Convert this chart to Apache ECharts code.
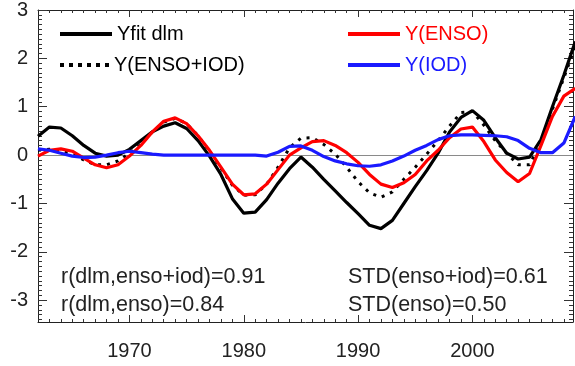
<!DOCTYPE html>
<html><head><meta charset="utf-8">
<script src="https://cdn.jsdelivr.net/npm/echarts@6/dist/echarts.min.js"></script>
<style>html,body{margin:0;padding:0;background:#fff}#c{width:575px;height:366px}</style>
</head><body><div id="c"></div>
<script>
const years = [1962,1963,1964,1965,1966,1967,1968,1969,1970,1971,1972,1973,1974,1975,1976,1977,1978,1979,1980,1981,1982,1983,1984,1985,1986,1987,1988,1989,1990,1991,1992,1993,1994,1995,1996,1997,1998,1999,2000,2001,2002,2003,2004,2005,2006,2007,2008,2009];
const yfitDlm = [0.39,0.58,0.56,0.40,0.20,0.04,-0.02,0.00,0.12,0.30,0.48,0.60,0.67,0.55,0.30,-0.02,-0.40,-0.90,-1.20,-1.18,-0.92,-0.58,-0.28,-0.04,-0.25,-0.50,-0.74,-0.98,-1.21,-1.45,-1.52,-1.35,-1.00,-0.65,-0.32,0.04,0.48,0.78,0.92,0.72,0.36,0.04,-0.08,-0.04,0.32,1.00,1.65,2.35];
const yEnsoIod = [0.10,0.12,0.08,0.02,-0.10,-0.20,-0.20,-0.12,0.04,0.22,0.48,0.68,0.76,0.65,0.40,0.08,-0.27,-0.62,-0.83,-0.82,-0.60,-0.25,0.15,0.35,0.36,0.22,0.02,-0.25,-0.55,-0.78,-0.87,-0.76,-0.50,-0.25,0.02,0.30,0.60,0.88,0.90,0.62,0.30,0.04,-0.20,-0.20,0.28,0.95,1.60,2.25];
const yEnso = [-0.02,0.10,0.13,0.08,-0.06,-0.20,-0.26,-0.20,-0.02,0.20,0.48,0.70,0.77,0.65,0.40,0.10,-0.25,-0.60,-0.82,-0.80,-0.60,-0.30,0.00,0.15,0.28,0.30,0.20,0.05,-0.15,-0.40,-0.60,-0.67,-0.57,-0.40,-0.12,0.10,0.36,0.54,0.58,0.28,-0.10,-0.36,-0.55,-0.38,0.20,0.80,1.22,1.38];
const yIod = [0.13,0.10,0.04,-0.02,-0.05,-0.04,0.00,0.05,0.08,0.05,0.02,0.00,0.00,0.00,0.00,0.00,0.00,0.00,0.00,0.00,-0.02,0.06,0.18,0.19,0.10,-0.03,-0.12,-0.18,-0.22,-0.23,-0.20,-0.12,-0.02,0.10,0.20,0.32,0.40,0.42,0.42,0.41,0.40,0.38,0.30,0.14,0.05,0.05,0.25,0.80];
const seriesNames = ['Yfit dlm','Y(ENSO+IOD)','Y(ENSO)','Y(IOD)'];
const xTickLabels = [1970,1980,1990,2000];
const yTickLabels = [-3,-2,-1,0,1,2,3];
const statsTexts = ['r(dlm,enso+iod)=0.91','r(dlm,enso)=0.84','STD(enso+iod)=0.61','STD(enso)=0.50'];

const FONT = '"Liberation Sans", Arial, Helvetica, sans-serif';
const XMIN = 1962, XMAX = 2008.8, YMIN = -3.45, YMAX = 3.0;
const yearTicks = []; for (let y = 1963; y <= 2008; y++) if (y % 10 !== 0) yearTicks.push(y);
const yMinor = []; for (let k = -34; k <= 30; k++) if (k % 10 !== 0) yMinor.push(k / 10);
const pair = a => years.map((y, i) => [y, a[i]]);
const axisLine = {show: true, onZero: false, lineStyle: {color: '#222', width: 1}};
function xAx(pos, ticks, len, labels, line) {
  return {type: 'value', min: XMIN, max: XMAX, position: pos, splitLine: {show: false},
    axisLine: line ? axisLine : {show: false, onZero: false},
    axisTick: {show: true, inside: true, length: len, customValues: ticks, lineStyle: {color: '#333', width: 1}},
    axisLabel: labels ? {show: true, customValues: labels, margin: 19, fontSize: 20, color: '#222', fontFamily: FONT, formatter: v => String(v)} : {show: false}};
}
function yAx(pos, ticks, len, labels, line) {
  return {type: 'value', min: YMIN, max: YMAX, position: pos, splitLine: {show: false},
    axisLine: line ? axisLine : {show: false, onZero: false},
    axisTick: {show: true, inside: true, length: len, customValues: ticks, lineStyle: {color: '#333', width: 1}},
    axisLabel: labels ? {show: true, customValues: labels, margin: 10, fontSize: 20, color: '#222', fontFamily: FONT, formatter: v => String(v)} : {show: false}};
}
const chart = echarts.init(document.getElementById('c'), null, {renderer: 'canvas'});
const solidIcon = 'rect';
const dottedIcon = 'path://M0,0h4v4h-4z M9,0h4v4h-4z M18,0h4v4h-4z M27,0h4v4h-4z M36,0h4v4h-4z M45,0h4v4h-4z';
function leg(name, left, top, color, icon, w) {
  return {data: [name], left: left, top: top, padding: 0, itemWidth: w, itemHeight: 4, icon: icon,
    itemStyle: {color: color}, textStyle: {fontSize: 20, color: color, fontFamily: FONT, padding: [0, 0, 14, 0]}};
}
chart.setOption({
  animation: false,
  backgroundColor: '#fff',
  grid: {left: 38, right: 2, top: 5, bottom: 44, containLabel: false},
  xAxis: [xAx('bottom', xTickLabels, 7, xTickLabels, true), xAx('bottom', yearTicks, 3, null, false),
          xAx('top', xTickLabels, 7, null, true), xAx('top', yearTicks, 3, null, false)],
  yAxis: [yAx('left', yTickLabels, 9, yTickLabels, true), yAx('left', yMinor, 4, null, false),
          yAx('right', yTickLabels, 9, null, true), yAx('right', yMinor, 4, null, false)],
  legend: [
    leg(seriesNames[0], 60, 24, '#000', solidIcon, 52),
    leg(seriesNames[1], 60, 55, '#000', dottedIcon, 49),
    leg(seriesNames[2], 348, 24, '#f00', solidIcon, 52),
    leg(seriesNames[3], 348, 55, '#1a1aff', solidIcon, 52)
  ],
  graphic: [
    {type: 'text', left: 61, top: 266, style: {text: statsTexts[0], fontSize: 21.5, fill: '#222', fontFamily: FONT}},
    {type: 'text', left: 61, top: 294, style: {text: statsTexts[1], fontSize: 21.5, fill: '#222', fontFamily: FONT}},
    {type: 'text', left: 348, top: 266, style: {text: statsTexts[2], fontSize: 21.5, fill: '#222', fontFamily: FONT}},
    {type: 'text', left: 348, top: 294, style: {text: statsTexts[3], fontSize: 21.5, fill: '#222', fontFamily: FONT}}
  ],
  series: [
    {name: seriesNames[0], type: 'line', data: pair(yfitDlm), symbol: 'none', color: '#000', lineStyle: {color: '#000', width: 3.2}, z: 3,
     markLine: {silent: true, symbol: 'none', label: {show: false}, lineStyle: {color: '#8a8a8a', width: 1.2, type: 'solid'}, data: [{yAxis: 0}], z: 1}},
    {name: seriesNames[1], type: 'line', data: pair(yEnsoIod), symbol: 'none', color: '#000', lineStyle: {color: '#000', width: 3, type: [3, 6], cap: 'butt'}, z: 3},
    {name: seriesNames[2], type: 'line', data: pair(yEnso), symbol: 'none', color: '#f00', lineStyle: {color: '#f00', width: 3.2}, z: 3},
    {name: seriesNames[3], type: 'line', data: pair(yIod), symbol: 'none', color: '#1a1aff', lineStyle: {color: '#1a1aff', width: 3.2}, z: 3}
  ]
});
</script></body></html>
